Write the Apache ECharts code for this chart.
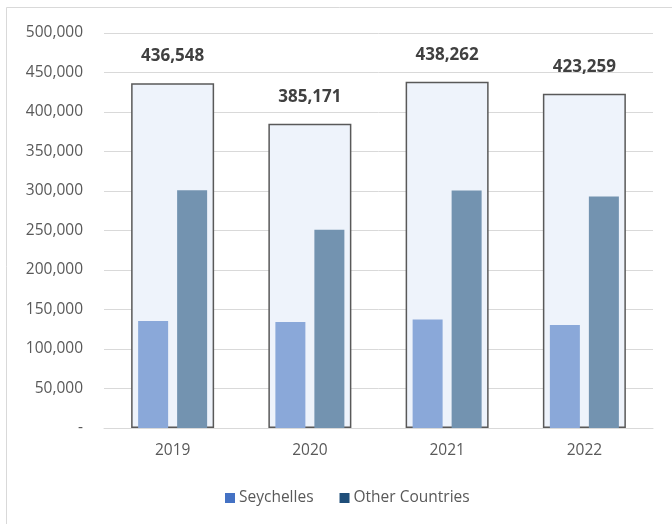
<!DOCTYPE html>
<html>
<head>
<meta charset="utf-8">
<script src="https://cdn.jsdelivr.net/npm/echarts@6/dist/echarts.min.js"></script>
<style>
  html, body { margin: 0; padding: 0; background: #fff; }
  #chart { width: 672px; height: 524px; }
</style>
</head>
<body>
<div id="chart"></div>
<script>
// Visitor arrivals by year: total, with Seychelles and other countries
const years = ['2019', '2020', '2021', '2022'];
const totals = [436548, 385171, 438262, 423259];
const seychelles = [135600, 134200, 137500, 130300];
const otherCountries = [300948, 250971, 300762, 292959];
const yTicks = [0, 50000, 100000, 150000, 200000, 250000, 300000, 350000, 400000, 450000, 500000];

const FONT = '"Open Sans", "Noto Sans", sans-serif';
const fmt = v => v === 0 ? '-' : v.toLocaleString('en-US');

const chart = echarts.init(document.getElementById('chart'), null, { renderer: 'canvas' });

chart.setOption({
  animation: false,
  backgroundColor: '#ffffff',
  textStyle: { fontFamily: FONT },
  graphic: [{
    type: 'rect',
    shape: { x: 6.5, y: 7.5, width: 700, height: 600 },
    style: { fill: 'none', stroke: '#d9d9d9', lineWidth: 1 },
    silent: true,
    z: -1
  }],
  grid: { left: 104, right: 19, top: 33, bottom: 96 },
  legend: {
    bottom: 13,
    left: 220,
    itemWidth: 10,
    itemHeight: 10,
    itemGap: 26,
    icon: 'rect',
    textStyle: { fontFamily: FONT, fontSize: 15.5, color: '#595959', padding: [0, 0, 0, -1] },
    data: [
      { name: 'Seychelles', itemStyle: { color: '#4472c4' } },
      { name: 'Other Countries', itemStyle: { color: '#1f4e79' } }
    ]
  },
  xAxis: [
    {
      type: 'category',
      data: years,
      axisLine: { lineStyle: { color: '#d9d9d9', width: 1 } },
      axisTick: { show: false },
      axisLabel: { color: '#595959', fontSize: 15.5, fontFamily: FONT, margin: 15 }
    },
    {
      type: 'category',
      data: years,
      show: false
    }
  ],
  yAxis: {
    type: 'value',
    min: yTicks[0],
    max: yTicks[yTicks.length - 1],
    interval: yTicks[1] - yTicks[0],
    axisLine: { show: false },
    axisTick: { show: false },
    splitLine: { lineStyle: { color: '#d9d9d9', width: 1 } },
    axisLabel: {
      color: '#595959', fontSize: 15.5, fontFamily: FONT, margin: 21,
      formatter: v => fmt(v)
    }
  },
  series: [
    {
      name: 'Total',
      type: 'bar',
      xAxisIndex: 0,
      data: totals,
      barWidth: 83,
      itemStyle: { color: '#eef3fb', borderColor: '#595959', borderWidth: 1.5 },
      label: {
        show: true,
        position: 'top',
        distance: 18,
        fontFamily: FONT,
        fontSize: 17,
        fontWeight: 'bold',
        color: '#404040',
        formatter: p => fmt(p.value)
      },
      z: 1
    },
    {
      name: 'Seychelles',
      type: 'bar',
      xAxisIndex: 1,
      data: seychelles,
      barWidth: 30,
      barGap: '30%',
      itemStyle: { color: '#8aa8d9' },
      z: 3
    },
    {
      name: 'Other Countries',
      type: 'bar',
      xAxisIndex: 1,
      data: otherCountries,
      barWidth: 30,
      barGap: '30%',
      itemStyle: { color: '#7393b0' },
      z: 3
    }
  ]
});
</script>
</body>
</html>
